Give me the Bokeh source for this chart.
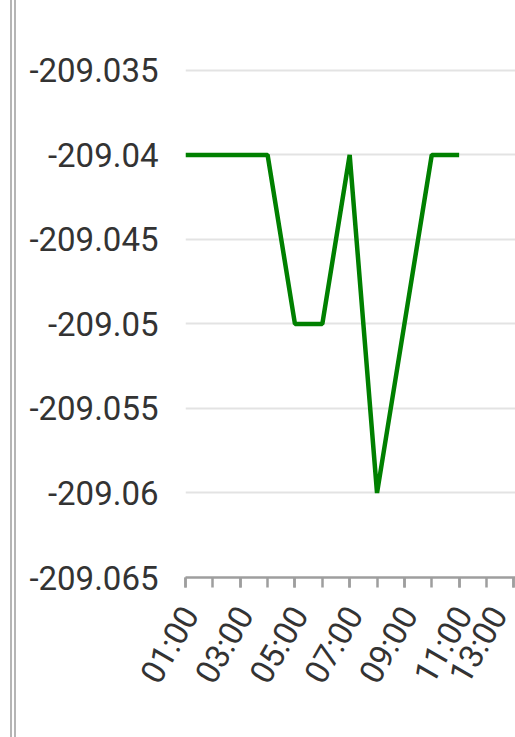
import math
from bokeh.plotting import figure
from bokeh.models import FixedTicker, Range1d, Legend, LegendItem
from bokeh.embed import file_html
from bokeh.resources import INLINE

# ---- data ----
hours = ["01:00", "02:00", "03:00", "04:00", "05:00", "06:00",
         "07:00", "08:00", "09:00", "10:00", "11:00"]
levels = [-209.04, -209.04, -209.04, -209.04, -209.05, -209.05,
          -209.04, -209.06, -209.05, -209.04, -209.04]
x_tick_labels = ["01:00", "03:00", "05:00", "07:00", "09:00", "11:00", "13:00"]
y_ticks = [-209.065, -209.06, -209.055, -209.05, -209.045, -209.04, -209.035]
y_tick_labels = ["-209.065", "-209.06", "-209.055", "-209.05",
                 "-209.045", "-209.04", "-209.035"]
series_name = "מפלס הכנרת"

x_vals = [int(h.split(":")[0]) for h in hours]
x_major = [int(t.split(":")[0]) for t in x_tick_labels]
x_minor = list(range(x_major[0], x_major[-1] + 1))

FONT = "Roboto"
TEXT = "#333333"
GRAY = "#9e9e9e"

# page: 10px margin + 6px double border, canvas 499 wide
p = figure(frame_width=330, frame_height=577, output_backend="svg", toolbar_location=None,
           x_range=Range1d(1, 13.06), y_range=Range1d(-209.065, -209.03086),
           min_border_left=169, min_border_right=0, min_border_top=0,
           min_border_bottom=0)
p.styles = {"margin-left": "10px", "border-left": "6px double #b5b5b5"}
p.outline_line_color = None
p.background_fill_color = "white"
p.border_fill_color = "white"

r = p.line(x_vals, levels, line_color="#008000", line_width=4.5, line_join="bevel")

# y axis
ya = p.yaxis[0]
ya.ticker = FixedTicker(ticks=y_ticks)
ya.major_label_overrides = dict(zip(y_ticks, y_tick_labels))
ya.axis_line_color = None
ya.major_tick_line_color = None
ya.major_tick_out = 0
ya.major_tick_in = 0
ya.minor_tick_line_color = None
ya.major_label_standoff = 27
ya.major_label_text_font = FONT
ya.major_label_text_font_size = "33px"
ya.major_label_text_color = TEXT

# x axis
xa = p.xaxis[0]
xa.ticker = FixedTicker(ticks=x_major, minor_ticks=x_minor)
xa.major_label_overrides = {k: "\n" + v for k, v in zip(x_major, x_tick_labels)}
xa.axis_line_color = GRAY
xa.axis_line_width = 2.5
xa.major_tick_line_color = GRAY
xa.major_tick_line_width = 2.5
xa.major_tick_in = 0
xa.major_tick_out = 10
xa.minor_tick_line_color = GRAY
xa.minor_tick_line_width = 2.5
xa.minor_tick_in = 0
xa.minor_tick_out = 10
xa.major_label_orientation = math.pi / 3
xa.major_label_standoff = 19
xa.major_label_text_font = FONT
xa.major_label_text_font_size = "33px"
xa.major_label_text_line_height = 0.27
xa.major_label_text_color = TEXT

p.xgrid.grid_line_color = None
p.ygrid.grid_line_color = "#e3e3e3"
p.ygrid.grid_line_width = 2

legend = Legend(items=[LegendItem(label=series_name, renderers=[r])],
                location="center", orientation="horizontal",
                label_text_font="DejaVu Sans", label_text_font_size="26px",
                label_text_color=TEXT, glyph_width=42, glyph_height=20,
                label_height=20, label_standoff=15,
                border_line_color=None, background_fill_alpha=0,
                padding=0, spacing=0, margin=0)
p.add_layout(legend, "below")

open("out.html", "w").write(file_html(p, INLINE))
